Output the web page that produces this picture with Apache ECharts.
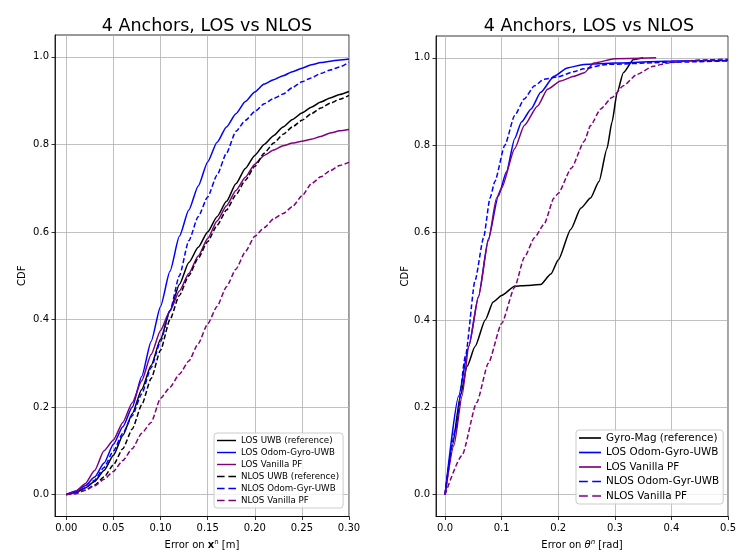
<!DOCTYPE html>
<html>
<head>
<meta charset="utf-8">
<script src="https://cdn.jsdelivr.net/npm/echarts@6/dist/echarts.min.js"></script>
<style>
  html, body { margin: 0; padding: 0; background: #fff; }
  #chart { width: 739px; height: 555px; }
</style>
</head>
<body>
<div id="chart"></div>
<script>
// left panel: position error, common x grid
const xPos = [0, 0.01, 0.02, 0.03, 0.04, 0.05, 0.06, 0.07, 0.08, 0.09, 0.10,
  0.11, 0.12, 0.13, 0.14, 0.15, 0.16, 0.17, 0.18, 0.19, 0.20,
  0.21, 0.22, 0.23, 0.24, 0.25, 0.26, 0.27, 0.28, 0.29, 0.30];
const losUwb = [0, 0.005, 0.015, 0.03, 0.055, 0.09, 0.135, 0.185, 0.24, 0.295, 0.355,
  0.42, 0.48, 0.53, 0.565, 0.6, 0.635, 0.67, 0.71, 0.745, 0.775,
  0.8, 0.82, 0.84, 0.857, 0.872, 0.885, 0.897, 0.906, 0.914, 0.921];
const losOdom = [0, 0.008, 0.02, 0.04, 0.072, 0.115, 0.155, 0.2, 0.27, 0.35, 0.43,
  0.51, 0.59, 0.65, 0.705, 0.76, 0.805, 0.84, 0.87, 0.898, 0.92,
  0.938, 0.948, 0.957, 0.966, 0.974, 0.982, 0.987, 0.99, 0.993, 0.995];
const losVanilla = [0, 0.007, 0.025, 0.055, 0.1, 0.125, 0.165, 0.21, 0.26, 0.32, 0.375,
  0.42, 0.465, 0.505, 0.545, 0.585, 0.625, 0.66, 0.695, 0.725, 0.755,
  0.775, 0.787, 0.797, 0.803, 0.807, 0.812, 0.818, 0.826, 0.831, 0.834];
const nlosUwb = [0, 0.003, 0.01, 0.022, 0.04, 0.068, 0.105, 0.15, 0.205, 0.265, 0.33,
  0.4, 0.455, 0.5, 0.54, 0.578, 0.615, 0.65, 0.685, 0.718, 0.75,
  0.78, 0.803, 0.823, 0.84, 0.855, 0.87, 0.883, 0.894, 0.903, 0.912];
const nlosOdom = [0, 0.005, 0.015, 0.033, 0.062, 0.1, 0.14, 0.18, 0.23, 0.29, 0.35,
  0.42, 0.5, 0.58, 0.635, 0.68, 0.73, 0.78, 0.83, 0.855, 0.875,
  0.893, 0.905, 0.915, 0.93, 0.943, 0.952, 0.962, 0.97, 0.977, 0.988];
const nlosVanilla = [0, 0.002, 0.01, 0.02, 0.035, 0.053, 0.078, 0.105, 0.14, 0.165, 0.22,
  0.245, 0.275, 0.305, 0.345, 0.39, 0.43, 0.475, 0.515, 0.555, 0.59,
  0.61, 0.63, 0.642, 0.658, 0.682, 0.71, 0.726, 0.74, 0.752, 0.759];

// right panel: heading error, each curve sampled on its own x
const gyroMagX = [0, 0.013, 0.027, 0.039, 0.053, 0.071, 0.085, 0.1, 0.123, 0.145, 0.169, 0.187,
  0.2, 0.222, 0.24, 0.257, 0.272, 0.286, 0.295, 0.304, 0.315, 0.333, 0.35];
const gyroMagY = [0, 0.113, 0.226, 0.294, 0.339, 0.4, 0.441, 0.456, 0.477, 0.479, 0.481, 0.505,
  0.537, 0.607, 0.656, 0.679, 0.717, 0.792, 0.853, 0.92, 0.966, 0.996, 1.0];
const losOdomHX = [0, 0.024, 0.042, 0.059, 0.0765, 0.094, 0.1085, 0.123, 0.135, 0.152, 0.169,
  0.1925, 0.216, 0.245, 0.3, 0.4, 0.5];
const losOdomHY = [0, 0.226, 0.34, 0.453, 0.585, 0.683, 0.739, 0.815, 0.853, 0.883, 0.921,
  0.958, 0.977, 0.985, 0.988, 0.993, 0.994];
const losVanHX = [0, 0.0157, 0.03, 0.042, 0.059, 0.0765, 0.091, 0.1, 0.123, 0.14, 0.1635,
  0.181, 0.204, 0.228, 0.246, 0.263, 0.3, 0.373];
const losVanHY = [0, 0.113, 0.226, 0.34, 0.453, 0.581, 0.679, 0.702, 0.792, 0.845, 0.89,
  0.928, 0.947, 0.958, 0.966, 0.988, 0.998, 1.0];
const nlosOdomHX = [0, 0.0186, 0.036, 0.053, 0.068, 0.0795, 0.088, 0.1056, 0.123, 0.14, 0.158,
  0.175, 0.198, 0.227, 0.245, 0.286, 0.4, 0.5];
const nlosOdomHY = [0, 0.15, 0.317, 0.49, 0.588, 0.679, 0.717, 0.8, 0.868, 0.906, 0.936,
  0.951, 0.956, 0.968, 0.975, 0.985, 0.99, 0.993];
const nlosVanHX = [0, 0.03, 0.056, 0.0765, 0.1, 0.123, 0.14, 0.158, 0.175, 0.1925, 0.2,
  0.223, 0.246, 0.257, 0.275, 0.295, 0.315, 0.339, 0.368, 0.397, 0.45, 0.5];
const nlosVanHY = [0, 0.09, 0.211, 0.301, 0.392, 0.475, 0.543, 0.588, 0.619, 0.679, 0.69,
  0.747, 0.809, 0.845, 0.883, 0.909, 0.936, 0.962, 0.981, 0.989, 0.995, 0.997];

// tick labels
const xTicksPos = [0, 0.05, 0.10, 0.15, 0.20, 0.25, 0.30];
const xTicksHead = [0, 0.1, 0.2, 0.3, 0.4, 0.5];
const yTicks = [0, 0.2, 0.4, 0.6, 0.8, 1.0];

const FONT = "DejaVu Sans";
const BLACK = "#000000", BLUE = "#0000ff", PURPLE = "#800080";

// legend glyphs: a thin bar, or two dashes
const ICON_SOLID = "path://M0,0H20V1.5H0Z";
const ICON_DASH = "path://M0,0H8V1.5H0Z M12,0H20V1.5H12Z";

function makeLine(name, xs, ys, color, dashed, idx) {
  return {
    type: "line",
    name: name,
    xAxisIndex: idx,
    yAxisIndex: idx,
    data: xs.map((x, i) => [x, ys[i]]),
    symbol: "none",
    smooth: 0.2,
    smoothMonotone: "x",
    lineStyle: { color: color, width: 1.5, type: dashed ? [5, 2.5] : "solid" },
    itemStyle: { color: color },
  };
}

function xAxisCfg(idx, min, max, ticks, digits, nameRich, nameText) {
  return {
    type: "value",
    gridIndex: idx,
    min: min,
    max: max,
    name: nameText,
    nameLocation: "middle",
    nameGap: 22,
    nameTextStyle: { fontFamily: FONT, fontSize: 10, color: "#000", rich: nameRich },
    axisLine: { show: true, onZero: false, lineStyle: { color: "#000", width: 0.8 } },
    axisTick: { show: true, inside: false, length: 3.5, customValues: ticks, lineStyle: { color: "#000", width: 0.8 } },
    axisLabel: {
      customValues: ticks, margin: 7, fontFamily: FONT, fontSize: 10, color: "#000",
      formatter: (v) => v.toFixed(digits),
    },
    splitLine: { show: true, lineStyle: { color: "#b0b0b0", width: 0.8 } },
  };
}

function yAxisCfg(idx, nameGap) {
  return {
    type: "value",
    gridIndex: idx,
    min: -0.05,
    max: 1.05,
    name: "CDF",
    nameLocation: "middle",
    nameGap: nameGap,
    nameTextStyle: { fontFamily: FONT, fontSize: 10, color: "#000" },
    axisLine: { show: true, onZero: false, lineStyle: { color: "#000", width: 0.8 } },
    axisTick: { show: true, inside: false, length: 3.5, customValues: yTicks, lineStyle: { color: "#000", width: 0.8 } },
    axisLabel: {
      customValues: yTicks, margin: 6, fontFamily: FONT, fontSize: 10, color: "#000",
      formatter: (v) => v.toFixed(1),
    },
    splitLine: { show: true, lineStyle: { color: "#b0b0b0", width: 0.8 } },
  };
}

const supRich = {
  b: { fontFamily: FONT, fontSize: 10, fontWeight: "bold", color: "#000" },
  i: { fontFamily: FONT, fontSize: 10, fontStyle: "italic", color: "#000" },
  sup: { fontFamily: FONT, fontSize: 7, color: "#000", padding: [0, 0, 6, 0] },
  supi: { fontFamily: FONT, fontSize: 7, fontStyle: "italic", color: "#000", padding: [0, 0, 6, 0] },
};

function legendCfg(left, top, itemWidth, itemHeight, gap, fontSize, entries) {
  return {
    orient: "vertical", left: left, top: top,
    itemWidth: itemWidth, itemHeight: itemHeight, itemGap: gap,
    padding: [3, 4, 3, 3], backgroundColor: "rgba(255,255,255,0.8)",
    borderColor: "#cccccc", borderWidth: 1, borderRadius: 3,
    textStyle: { fontFamily: FONT, fontSize: fontSize, color: "#000" },
    data: entries.map(([name, dashed]) => ({ name: name, icon: dashed ? ICON_DASH : ICON_SOLID })),
  };
}

const chart = echarts.init(document.getElementById("chart"), null, { renderer: "canvas" });

const option = {
  animation: false,
  backgroundColor: "#ffffff",
  title: [
    { text: "4 Anchors, LOS vs NLOS", left: 202, top: 12, textAlign: "center",
      textStyle: { fontFamily: FONT, fontSize: 17.5, fontWeight: "normal", color: "#000" } },
    { text: "4 Anchors, LOS vs NLOS", left: 584, top: 12, textAlign: "center",
      textStyle: { fontFamily: FONT, fontSize: 17.5, fontWeight: "normal", color: "#000" } },
  ],
  grid: [
    { left: 55, top: 35, width: 294, height: 485, show: true, borderColor: "#000", borderWidth: 0.8, backgroundColor: "transparent" },
    { left: 436, top: 36, width: 297, height: 486, show: true, borderColor: "#000", borderWidth: 0.8, backgroundColor: "transparent" },
  ],
  xAxis: [
    xAxisCfg(0, -0.012, 0.30, xTicksPos, 2, supRich, "Error on {b|x}{sup|n} [m]"),
    xAxisCfg(1, -0.016, 0.5, xTicksHead, 1, supRich, "Error on {i|θ}{supi|n} [rad]"),
  ],
  yAxis: [yAxisCfg(0, 28), yAxisCfg(1, 25)],
  legend: [
    legendCfg(214, 433, 19, 10, 3, 8.7, [
      ["LOS UWB (reference)", false], ["LOS Odom-Gyro-UWB", false], ["LOS Vanilla PF", false],
      ["NLOS UWB (reference)", true], ["NLOS Odom-Gyr-UWB", true], ["NLOS Vanilla PF", true]]),
    legendCfg(576, 430, 22, 12, 4.5, 10.4, [
      ["Gyro-Mag (reference)", false], ["LOS Odom-Gyro-UWB", false], ["LOS Vanilla PF", false],
      ["NLOS Odom-Gyr-UWB", true], ["NLOS Vanilla PF", true]]),
  ],
  series: [
    makeLine("LOS UWB (reference)", xPos, losUwb, BLACK, false, 0),
    makeLine("LOS Odom-Gyro-UWB", xPos, losOdom, BLUE, false, 0),
    makeLine("LOS Vanilla PF", xPos, losVanilla, PURPLE, false, 0),
    makeLine("NLOS UWB (reference)", xPos, nlosUwb, BLACK, true, 0),
    makeLine("NLOS Odom-Gyr-UWB", xPos, nlosOdom, BLUE, true, 0),
    makeLine("NLOS Vanilla PF", xPos, nlosVanilla, PURPLE, true, 0),

    makeLine("Gyro-Mag (reference)", gyroMagX, gyroMagY, BLACK, false, 1),
    makeLine("LOS Odom-Gyro-UWB", losOdomHX, losOdomHY, BLUE, false, 1),
    makeLine("LOS Vanilla PF", losVanHX, losVanHY, PURPLE, false, 1),
    makeLine("NLOS Odom-Gyr-UWB", nlosOdomHX, nlosOdomHY, BLUE, true, 1),
    makeLine("NLOS Vanilla PF", nlosVanHX, nlosVanHY, PURPLE, true, 1),
  ],
};

chart.setOption(option);
</script>
</body>
</html>
